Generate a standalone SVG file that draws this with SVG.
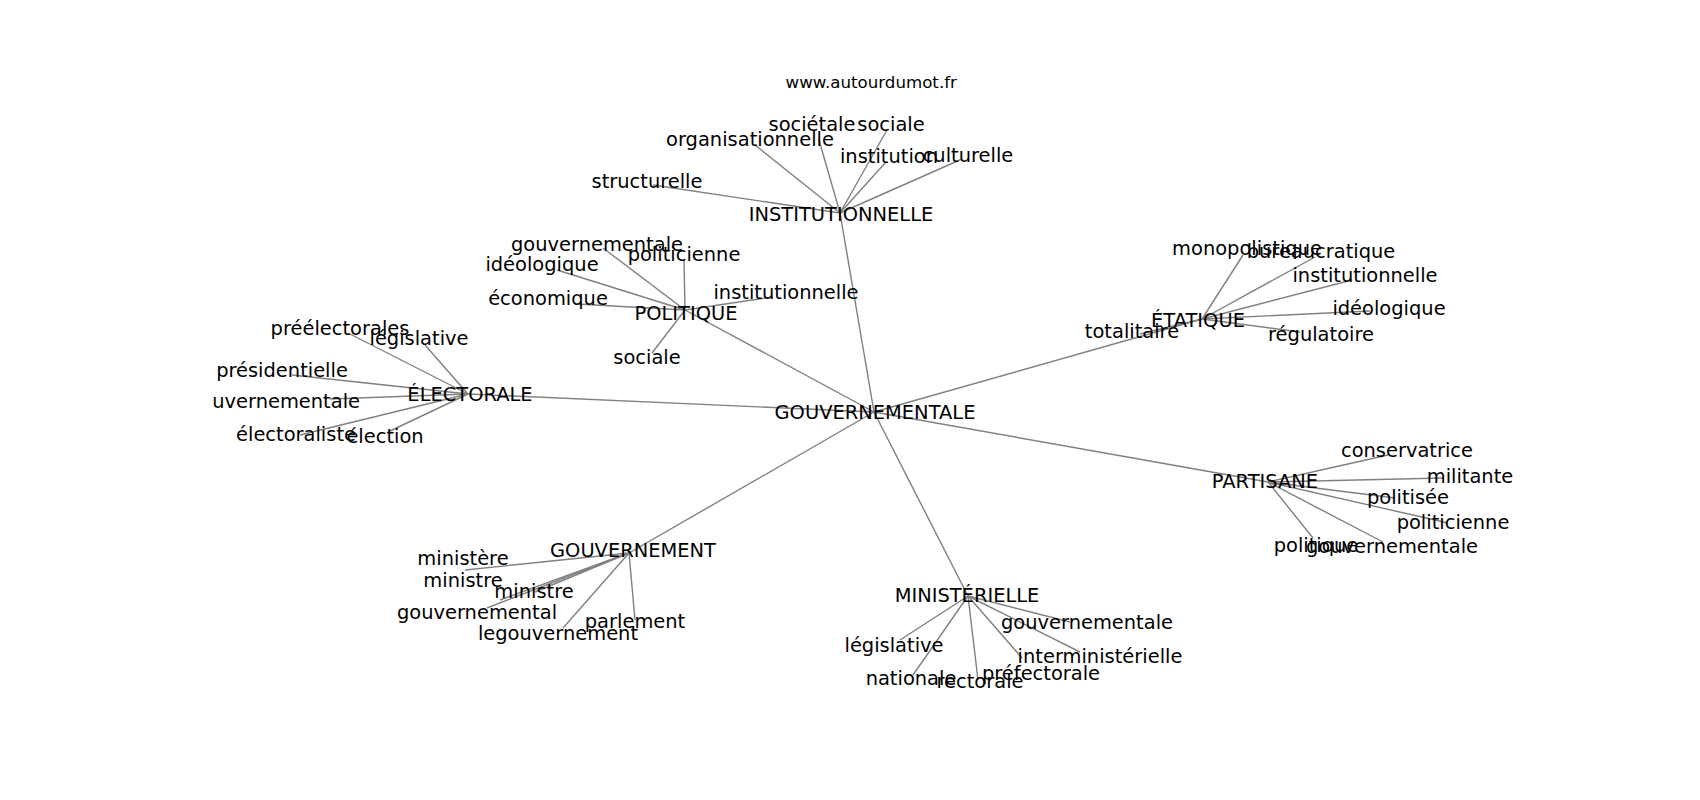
<svg xmlns="http://www.w3.org/2000/svg" width="1700" height="800" viewBox="0 0 1700 800">
<style>
.e{stroke:#808080;stroke-width:1.4;fill:none}
.t{font-family:"DejaVu Sans",sans-serif;font-size:19.44px;fill:#000;text-anchor:middle}
.title{font-family:"DejaVu Sans",sans-serif;font-size:16.67px;fill:#000;text-anchor:middle}
</style>
<defs><clipPath id="ax"><rect x="212.5" y="96" width="1317.5" height="616"/></clipPath></defs>
<rect width="1700" height="800" fill="#fff"/>
<text class="title" x="871.25" y="87.7">www.autourdumot.fr</text>
<g clip-path="url(#ax)">
<g id="edges">
<line class="e" x1="874" y1="412" x2="840" y2="213"/>
<line class="e" x1="874" y1="412" x2="685" y2="310"/>
<line class="e" x1="874" y1="412" x2="468" y2="394"/>
<line class="e" x1="874" y1="412" x2="1202" y2="319"/>
<line class="e" x1="874" y1="412" x2="1268" y2="482"/>
<line class="e" x1="874" y1="412" x2="629" y2="553"/>
<line class="e" x1="874" y1="412" x2="968" y2="596"/>
<line class="e" x1="840" y1="213" x2="653" y2="185"/>
<line class="e" x1="840" y1="213" x2="755" y2="145"/>
<line class="e" x1="840" y1="213" x2="819" y2="140"/>
<line class="e" x1="840" y1="213" x2="887" y2="130"/>
<line class="e" x1="840" y1="213" x2="886" y2="162"/>
<line class="e" x1="840" y1="213" x2="962" y2="159"/>
<line class="e" x1="685" y1="310" x2="603" y2="248"/>
<line class="e" x1="685" y1="310" x2="684" y2="260"/>
<line class="e" x1="685" y1="310" x2="557" y2="270"/>
<line class="e" x1="685" y1="310" x2="577" y2="304"/>
<line class="e" x1="685" y1="310" x2="773" y2="297"/>
<line class="e" x1="685" y1="310" x2="652" y2="353"/>
<line class="e" x1="468" y1="394" x2="348" y2="333"/>
<line class="e" x1="468" y1="394" x2="425" y2="345"/>
<line class="e" x1="468" y1="394" x2="292" y2="375"/>
<line class="e" x1="468" y1="394" x2="330" y2="399"/>
<line class="e" x1="468" y1="394" x2="300" y2="435"/>
<line class="e" x1="468" y1="394" x2="388" y2="432"/>
<line class="e" x1="1202" y1="319" x2="1243" y2="255"/>
<line class="e" x1="1202" y1="319" x2="1315" y2="257"/>
<line class="e" x1="1202" y1="319" x2="1352" y2="280"/>
<line class="e" x1="1202" y1="319" x2="1370" y2="311"/>
<line class="e" x1="1202" y1="319" x2="1300" y2="332"/>
<line class="e" x1="1202" y1="319" x2="1140" y2="334"/>
<line class="e" x1="1268" y1="482" x2="1388" y2="455"/>
<line class="e" x1="1268" y1="482" x2="1443" y2="478"/>
<line class="e" x1="1268" y1="482" x2="1395" y2="498"/>
<line class="e" x1="1268" y1="482" x2="1448" y2="523"/>
<line class="e" x1="1268" y1="482" x2="1313" y2="538"/>
<line class="e" x1="1268" y1="482" x2="1383" y2="542"/>
<line class="e" x1="629" y1="553" x2="465" y2="570"/>
<line class="e" x1="629" y1="553" x2="500" y2="600"/>
<line class="e" x1="629" y1="553" x2="535" y2="592"/>
<line class="e" x1="629" y1="553" x2="487" y2="608"/>
<line class="e" x1="629" y1="553" x2="563" y2="628"/>
<line class="e" x1="629" y1="553" x2="635" y2="620"/>
<line class="e" x1="968" y1="596" x2="1070" y2="622"/>
<line class="e" x1="968" y1="596" x2="900" y2="640"/>
<line class="e" x1="968" y1="596" x2="1080" y2="652"/>
<line class="e" x1="968" y1="596" x2="913" y2="675"/>
<line class="e" x1="968" y1="596" x2="978" y2="680"/>
<line class="e" x1="968" y1="596" x2="1022" y2="658"/>
</g>
<g id="n-center"><text class="t" x="875" y="419">GOUVERNEMENTALE</text></g>
<g id="n-institutionnelle">
<text class="t" x="841" y="221">INSTITUTIONNELLE</text>
<text class="t" x="647" y="188">structurelle</text>
<text class="t" x="750" y="146">organisationnelle</text>
<text class="t" x="812" y="131">sociétale</text>
<text class="t" x="891" y="131">sociale</text>
<text class="t" x="889" y="163">institution</text>
<text class="t" x="968" y="162">culturelle</text>
</g>
<g id="n-politique">
<text class="t" x="686" y="320">POLITIQUE</text>
<text class="t" x="597" y="251">gouvernementale</text>
<text class="t" x="684" y="261">politicienne</text>
<text class="t" x="542" y="271">idéologique</text>
<text class="t" x="548" y="305">économique</text>
<text class="t" x="786" y="299">institutionnelle</text>
<text class="t" x="647" y="364">sociale</text>
</g>
<g id="n-electorale">
<text class="t" x="470" y="401">ÉLECTORALE</text>
<text class="t" x="340" y="335">préélectorales</text>
<text class="t" x="419" y="345">législative</text>
<text class="t" x="282" y="377">présidentielle</text>
<text class="t" x="274" y="408">gouvernementale</text>
<text class="t" x="296" y="441">électoraliste</text>
<text class="t" x="385" y="443">élection</text>
</g>
<g id="n-etatique">
<text class="t" x="1198" y="327">ÉTATIQUE</text>
<text class="t" x="1247" y="255">monopolistique</text>
<text class="t" x="1321" y="258">bureaucratique</text>
<text class="t" x="1365" y="282">institutionnelle</text>
<text class="t" x="1389" y="315">idéologique</text>
<text class="t" x="1321" y="341">régulatoire</text>
<text class="t" x="1132" y="338">totalitaire</text>
</g>
<g id="n-partisane">
<text class="t" x="1265" y="488">PARTISANE</text>
<text class="t" x="1407" y="457">conservatrice</text>
<text class="t" x="1470" y="483">militante</text>
<text class="t" x="1408" y="504">politisée</text>
<text class="t" x="1453" y="529">politicienne</text>
<text class="t" x="1316" y="552">politique</text>
<text class="t" x="1392" y="553">gouvernementale</text>
</g>
<g id="n-gouvernement">
<text class="t" x="633" y="557">GOUVERNEMENT</text>
<text class="t" x="463" y="565">ministère</text>
<text class="t" x="463" y="587">ministre</text>
<text class="t" x="534" y="598">ministre</text>
<text class="t" x="477" y="619">gouvernemental</text>
<text class="t" x="558" y="640">legouvernement</text>
<text class="t" x="635" y="628">parlement</text>
</g>
<g id="n-ministerielle">
<text class="t" x="967" y="602">MINISTÉRIELLE</text>
<text class="t" x="1087" y="629">gouvernementale</text>
<text class="t" x="894" y="652">législative</text>
<text class="t" x="1100" y="663">interministérielle</text>
<text class="t" x="911" y="685">nationale</text>
<text class="t" x="980" y="688">rectorale</text>
<text class="t" x="1041" y="680">préfectorale</text>
</g>
</g>
</svg>
